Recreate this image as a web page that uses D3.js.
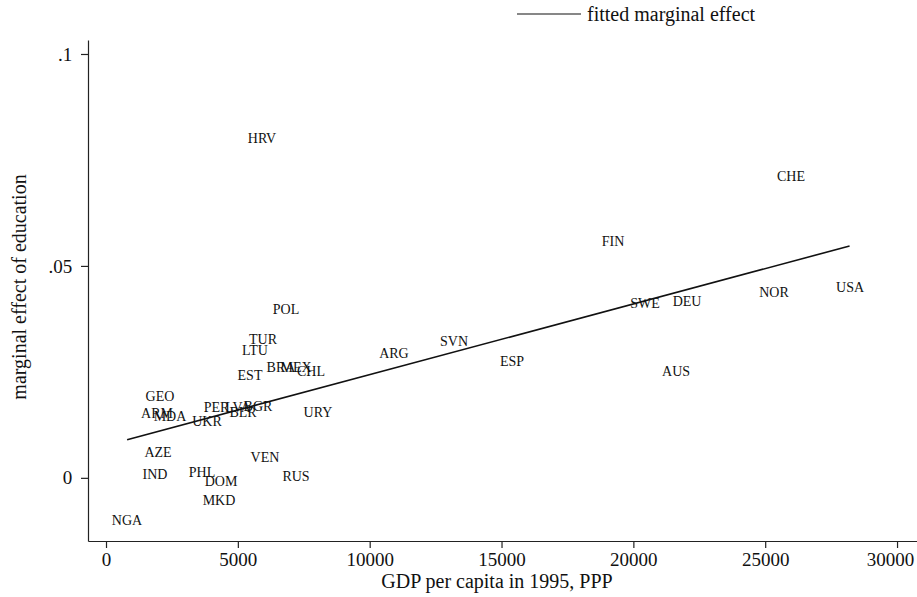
<!DOCTYPE html>
<html>
<head>
<meta charset="utf-8">
<script src="https://cdn.jsdelivr.net/npm/d3@7"></script>
<style>
  body { margin: 0; background: #fff; }
  text { font-family: "Liberation Serif", "DejaVu Serif", serif; fill: #111; }
</style>
</head>
<body>
<div id="chart"></div>
<script>
// country codes and values
var countries = ["HRV", "CHE", "FIN", "SWE", "DEU", "NOR", "USA", "AUS", "ESP", "SVN",
    "ARG", "POL", "TUR", "LTU", "BRA", "MEX", "EST", "CHL", "GEO", "ARM", "MDA", "UKR",
    "PER", "LVA", "BGR", "BLR", "URY", "AZE", "IND", "PHL", "DOM", "MKD", "VEN", "RUS", "NGA"]
var gdp = [5917, 25980, 19230, 20440, 22035, 25335, 28217, 21620, 15400, 13200,
    10920, 6827, 5954, 5650, 6637, 7206, 5461, 7775, 2048, 1934, 2427, 3830,
    4195, 5006, 5765, 5196, 8040, 1972, 1858, 3641, 4361, 4286, 6030, 7206, 796]
var effect = [0.0802, 0.0712, 0.0559, 0.0413, 0.0417, 0.0439, 0.0450, 0.0252, 0.0276, 0.0323,
    0.0295, 0.0399, 0.0328, 0.0302, 0.0262, 0.0262, 0.0243, 0.0252, 0.0193, 0.0153, 0.0146, 0.0134,
    0.0167, 0.0167, 0.0170, 0.0156, 0.0156, 0.0061, 0.0009, 0.0014, -0.0007, -0.0052, 0.0050, 0.0005, -0.0099]

// fitted line end points
var fit_x = [800, 28200]
var fit_y = [0.0090, 0.0547]

var x_ticks = [0, 5000, 10000, 15000, 20000, 25000, 30000]
var y_ticks = [0, 0.05, 0.1]
var y_tick_labels = ["0", ".05", ".1"]

var width = 917
var height = 597

var svg = d3.select("#chart")
    .append("svg")
    .attr("width", width)
    .attr("height", height)

var xScale = d3.scaleLinear().domain([-683, 30757]).range([88, 917])
var yScale = d3.scaleLinear().domain([-0.0149, 0.1033]).range([541, 40])

/*-------------------------------- axes ------------------------------*/
var xAxis = svg.append("g")
    .attr("transform", "translate(0,541)")
    .call(d3.axisBottom(xScale).tickValues(x_ticks).tickSize(7).tickSizeOuter(0)
        .tickFormat(d3.format("d")))
xAxis.selectAll("text")
    .style("font-size", "19px")
    .attr("dy", "0.8em")
    // last label sits at the right edge, nudge it inside
    .attr("dx", function(d) { return d == 30000 ? "-7px" : null })

var yAxis = svg.append("g")
    .attr("transform", "translate(88,0)")
    .call(d3.axisLeft(yScale).tickValues(y_ticks).tickSize(7).tickSizeOuter(0)
        .tickFormat(function(d, i) { return y_tick_labels[i] }))
yAxis.selectAll("text").style("font-size", "19px").attr("dx", "-0.3em")

svg.selectAll(".domain, .tick line").attr("stroke", "#222").attr("stroke-width", 1.2)

svg.append("text")
    .attr("x", 497)
    .attr("y", 588)
    .attr("text-anchor", "middle")
    .style("font-size", "20px")
    .text("GDP per capita in 1995, PPP")

svg.append("text")
    .attr("transform", "translate(19,287) rotate(-90)")
    .attr("text-anchor", "middle")
    .attr("dy", "0.35em")
    .style("font-size", "20px")
    .text("marginal effect of education")

/*-------------------------------- fitted line ------------------------------*/
svg.append("line")
    .attr("x1", xScale(fit_x[0]))
    .attr("y1", yScale(fit_y[0]))
    .attr("x2", xScale(fit_x[1]))
    .attr("y2", yScale(fit_y[1]))
    .attr("stroke", "#111")
    .attr("stroke-width", 1.6)

/*-------------------------------- country labels ------------------------------*/
svg.selectAll(".lab")
    .data(countries)
    .enter().append("text")
    .attr("class", "lab")
    .attr("x", function(d, i) { return xScale(gdp[i]) })
    .attr("y", function(d, i) { return yScale(effect[i]) })
    .attr("dy", "0.35em")
    .attr("text-anchor", "middle")
    .style("font-size", "14px")
    .text(function(d) { return d })

/*-------------------------------- legend ------------------------------*/
svg.append("line")
    .attr("x1", 517).attr("x2", 581)
    .attr("y1", 14).attr("y2", 14)
    .attr("stroke", "#111")
    .attr("stroke-width", 1.2)

svg.append("text")
    .attr("x", 587)
    .attr("y", 14)
    .attr("dy", "0.35em")
    .style("font-size", "20px")
    .text("fitted marginal effect")
</script>
</body>
</html>
